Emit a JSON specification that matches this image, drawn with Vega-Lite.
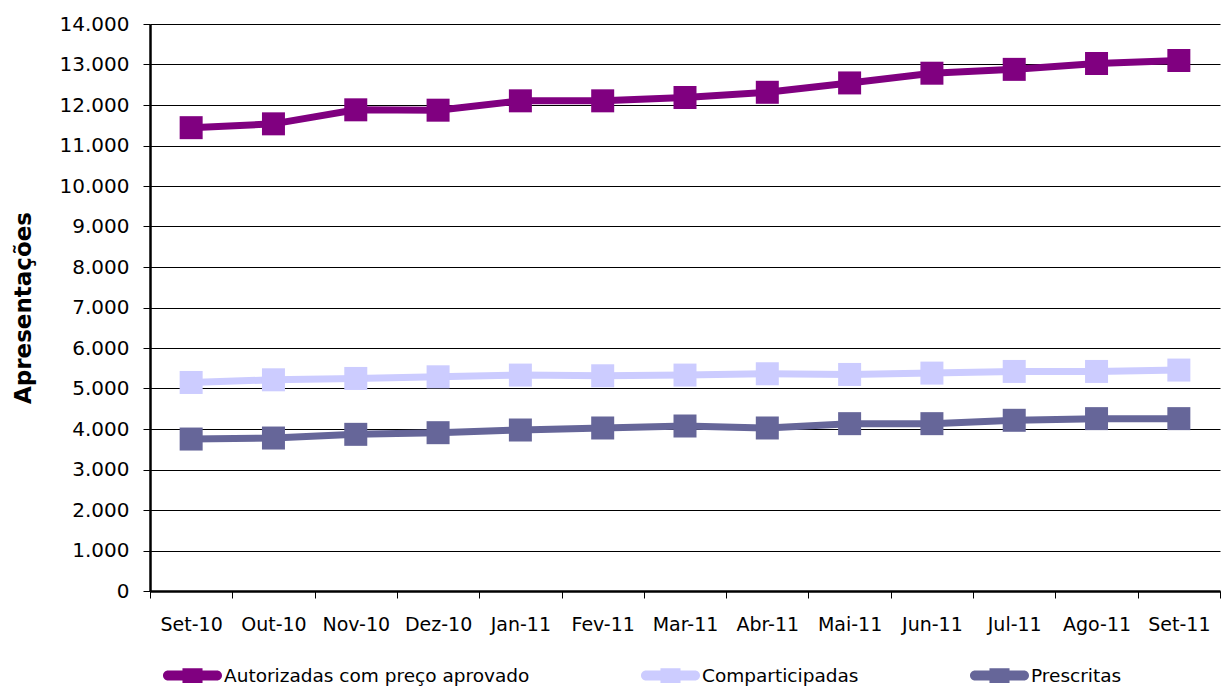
{
  "$schema": "https://vega.github.io/schema/vega-lite/v6.json",
  "autosize": "none",
  "width": 1070,
  "height": 567,
  "padding": {"left": 150, "top": 24, "right": 2, "bottom": 97},
  "background": "white",
  "config": {
    "locale": {"number": {"decimal": ",", "thousands": ".", "grouping": [3], "currency": ["", " €"]}},
    "font": "DejaVu Sans",
    "view": {"stroke": null}
  },
  "data": {
    "values": [
      {"mes": "Set-10", "serie": "Autorizadas com preço aprovado", "valor": 11440},
      {"mes": "Out-10", "serie": "Autorizadas com preço aprovado", "valor": 11535},
      {"mes": "Nov-10", "serie": "Autorizadas com preço aprovado", "valor": 11881},
      {"mes": "Dez-10", "serie": "Autorizadas com preço aprovado", "valor": 11872},
      {"mes": "Jan-11", "serie": "Autorizadas com preço aprovado", "valor": 12103},
      {"mes": "Fev-11", "serie": "Autorizadas com preço aprovado", "valor": 12103},
      {"mes": "Mar-11", "serie": "Autorizadas com preço aprovado", "valor": 12185},
      {"mes": "Abr-11", "serie": "Autorizadas com preço aprovado", "valor": 12314},
      {"mes": "Mai-11", "serie": "Autorizadas com preço aprovado", "valor": 12545},
      {"mes": "Jun-11", "serie": "Autorizadas com preço aprovado", "valor": 12785},
      {"mes": "Jul-11", "serie": "Autorizadas com preço aprovado", "valor": 12880},
      {"mes": "Ago-11", "serie": "Autorizadas com preço aprovado", "valor": 13025},
      {"mes": "Set-11", "serie": "Autorizadas com preço aprovado", "valor": 13099},
      {"mes": "Set-10", "serie": "Comparticipadas", "valor": 5149},
      {"mes": "Out-10", "serie": "Comparticipadas", "valor": 5215},
      {"mes": "Nov-10", "serie": "Comparticipadas", "valor": 5248},
      {"mes": "Dez-10", "serie": "Comparticipadas", "valor": 5289},
      {"mes": "Jan-11", "serie": "Comparticipadas", "valor": 5331},
      {"mes": "Fev-11", "serie": "Comparticipadas", "valor": 5314},
      {"mes": "Mar-11", "serie": "Comparticipadas", "valor": 5331},
      {"mes": "Abr-11", "serie": "Comparticipadas", "valor": 5364},
      {"mes": "Mai-11", "serie": "Comparticipadas", "valor": 5347},
      {"mes": "Jun-11", "serie": "Comparticipadas", "valor": 5380},
      {"mes": "Jul-11", "serie": "Comparticipadas", "valor": 5421},
      {"mes": "Ago-11", "serie": "Comparticipadas", "valor": 5421},
      {"mes": "Set-11", "serie": "Comparticipadas", "valor": 5455},
      {"mes": "Set-10", "serie": "Prescritas", "valor": 3752},
      {"mes": "Out-10", "serie": "Prescritas", "valor": 3777},
      {"mes": "Nov-10", "serie": "Prescritas", "valor": 3868},
      {"mes": "Dez-10", "serie": "Prescritas", "valor": 3909},
      {"mes": "Jan-11", "serie": "Prescritas", "valor": 3975},
      {"mes": "Fev-11", "serie": "Prescritas", "valor": 4025},
      {"mes": "Mar-11", "serie": "Prescritas", "valor": 4074},
      {"mes": "Abr-11", "serie": "Prescritas", "valor": 4025},
      {"mes": "Mai-11", "serie": "Prescritas", "valor": 4132},
      {"mes": "Jun-11", "serie": "Prescritas", "valor": 4132},
      {"mes": "Jul-11", "serie": "Prescritas", "valor": 4215},
      {"mes": "Ago-11", "serie": "Prescritas", "valor": 4256},
      {"mes": "Set-11", "serie": "Prescritas", "valor": 4256}
    ]
  },
  "encoding": {
    "x": {
      "field": "mes", "type": "nominal", "sort": null, "bandPosition": 0.5,
      "scale": {"type": "band", "paddingInner": 0, "paddingOuter": 0},
      "axis": {
        "title": null, "labelAngle": 0, "tickBand": "extent", "grid": false,
        "domainColor": "#000", "domainWidth": 2.5, "tickColor": "#000", "tickSize": 7, "tickWidth": 1,
        "labelFont": "DejaVu Sans", "labelFontSize": 19, "labelColor": "#000", "labelPadding": 17
      }
    },
    "y": {
      "field": "valor", "type": "quantitative",
      "scale": {"domain": [0, 14000], "nice": false},
      "axis": {
        "title": "Apresentações", "titleFont": "DejaVu Sans", "titleFontSize": 23, "titleFontWeight": "bold",
        "titleColor": "#000", "titlePadding": 24,
        "values": [0,1000,2000,3000,4000,5000,6000,7000,8000,9000,10000,11000,12000,13000,14000],
        "format": ",d", "labelFont": "DejaVu Sans", "labelFontSize": 20, "labelColor": "#000",
        "labelPadding": 14, "tickSize": 7, "tickColor": "#000", "domainColor": "#000", "domainWidth": 2.5,
        "grid": true, "gridColor": "#000", "gridWidth": 1
      }
    },
    "color": {
      "field": "serie", "type": "nominal",
      "scale": {
        "domain": ["Autorizadas com preço aprovado", "Comparticipadas", "Prescritas"],
        "range": ["#800080", "#CCCCFF", "#666699"]
      },
      "legend": {
        "title": null, "orient": "none", "legendX": 13, "legendY": 622, "direction": "horizontal",
        "symbolType": "M-0.83,-0.17H0.83A0.17,0.17,0,0,1,0.83,0.17H-0.83A0.17,0.17,0,0,1,-0.83,-0.17Z M-0.34,-0.25H0.34V0.25H-0.34Z",
        "symbolSize": 3481, "symbolStrokeWidth": 0, "symbolOpacity": 1,
        "labelFont": "DejaVu Sans", "labelFontSize": 18.5, "labelColor": "#000", "labelOffset": 2,
        "columnPadding": 111, "labelLimit": 400, "padding": 0,
        "encode": {"symbols": {"update": {"fill": {"scale": "color", "field": "value"}, "stroke": {"value": "transparent"}, "opacity": {"value": 1}}}}
      }
    }
  },
  "layer": [
    {
      "mark": {"type": "line", "strokeWidth": 7}
    },
    {
      "mark": {"type": "point", "shape": "square", "filled": true, "size": 529, "opacity": 1, "strokeWidth": 0}
    }
  ]
}
